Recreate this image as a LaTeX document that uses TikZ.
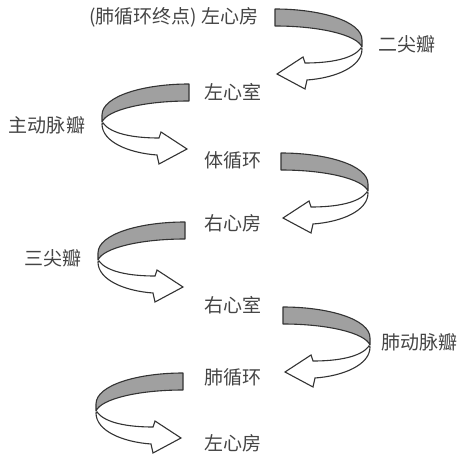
\documentclass[tikz,border=0pt]{standalone}
\usepackage{fontspec}
\setmainfont{Noto Sans CJK SC}
\definecolor{txt}{HTML}{444444}
\definecolor{edge}{HTML}{333333}
\definecolor{bandgray}{HTML}{A0A0A0}
\begin{document}
\begin{tikzpicture}[x=1pt,y=-1pt,
  lbl/.style={text=txt, font=\fontsize{19}{19}\selectfont, inner sep=0pt},
  band/.style={draw=edge, fill=bandgray, line width=1.1pt, line join=round},
  tail/.style={draw=edge, fill=white, line width=1.1pt, line join=miter},
  twist/.pic={
    \path[tail] (86,39) .. controls (78,50) and (55,54) .. (30,54) -- (28,48) -- (2,65) -- (30,80) -- (32,71) .. controls (60,69) and (87,58) .. (87,40) -- cycle;
    \path[band] (0,0) .. controls (45,0) and (87,12) .. (87,31) -- (87,38) .. controls (82,26) and (45,17) .. (0,17) -- cycle;
  }]
\useasboundingbox (0,0) rectangle (462,454);
% labels
\node[lbl] (lfa) at (174,17) {(肺循环终点) 左心房};
\node[lbl] (mitral) at (407,44) {二尖瓣};
\node[lbl] (lv) at (233,92) {左心室};
\node[lbl] (aortic) at (47,125) {主动脉瓣};
\node[lbl] (sys) at (233,160) {体循环};
\node[lbl] (ra) at (233,223) {右心房};
\node[lbl] (tric) at (53,258) {三尖瓣};
\node[lbl] (rv) at (233,305) {右心室};
\node[lbl] (pulv) at (419,342) {肺动脉瓣};
\node[lbl] (pul) at (233,377) {肺循环};
\node[lbl] (la) at (233,443) {左心房};
% twisted ribbon arrows
\coordinate (t1) at (275,9);
\coordinate (t2) at (189,84);
\coordinate (t3) at (281,153);
\coordinate (t4) at (185,222);
\coordinate (t5) at (283,307);
\coordinate (t6) at (183,373);
\pic at (t1) {twist};
\pic[xscale=-1] at (t2) {twist};
\pic at (t3) {twist};
\pic[xscale=-1] at (t4) {twist};
\pic at (t5) {twist};
\pic[xscale=-1] at (t6) {twist};
\end{tikzpicture}
\end{document}
